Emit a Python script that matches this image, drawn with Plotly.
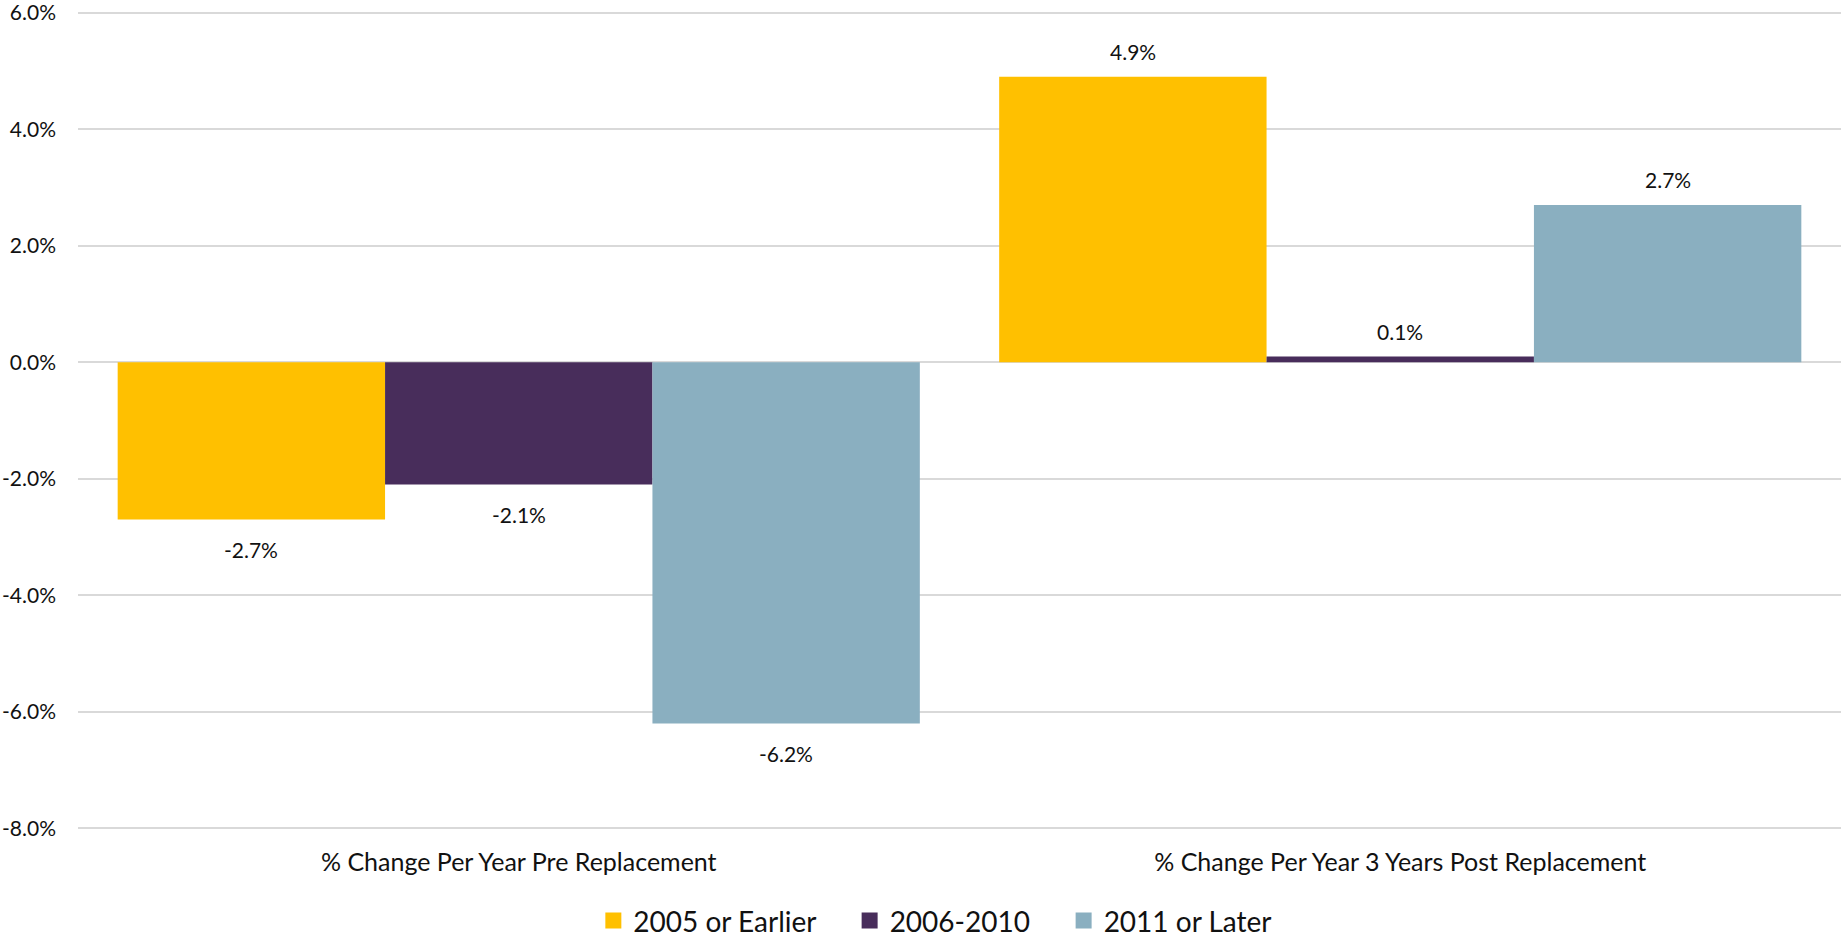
import plotly.graph_objects as go

categories = ["% Change Per Year Pre Replacement", "% Change Per Year 3 Years Post Replacement"]
series_names = ["2005 or Earlier", "2006-2010", "2011 or Later"]
values_2005 = [-2.7, 4.9]
values_2006 = [-2.1, 0.1]
values_2011 = [-6.2, 2.7]
series_values = [values_2005, values_2006, values_2011]
colors = ["#FFC000", "#482D5B", "#8AAFC0"]
y_ticks = [-8, -6, -4, -2, 0, 2, 4, 6]
y_tick_text = [f"{v:.1f}%" for v in y_ticks]

FONT = "Lato"
TEXT_COLOR = "#111111"
BARGAP = 0.09
NBSP = "\u00a0"

fig = go.Figure()
n = len(series_names)
for k, (name, vals, col) in enumerate(zip(series_names, series_values, colors)):
    fig.add_trace(go.Bar(
        x=categories, y=vals, name=name, marker=dict(color=col, line=dict(width=0)),
        showlegend=False, hoverinfo="skip",
    ))
    legend_name = name + (NBSP * 4 if k < n - 1 else "")
    fig.add_trace(go.Scatter(
        x=[None], y=[None], mode="markers", name=legend_name,
        marker=dict(symbol="square", size=18, color=col),
    ))

# data labels through annotations on the numeric category positions
bar_w = (1 - BARGAP) / n
annotations = []
for s, vals in enumerate(series_values):
    off = (s - (n - 1) / 2) * bar_w
    for i, v in enumerate(vals):
        annotations.append(dict(
            x=i + off, y=v, xref="x", yref="y", text=f"{v:.1f}%",
            showarrow=False, yanchor="middle",
            yshift=25 if v >= 0 else -30,
            font=dict(family=FONT, size=21, color=TEXT_COLOR),
        ))

fig.update_layout(
    width=1841, height=937,
    margin=dict(l=78, r=0, t=11, b=107, autoexpand=False),
    paper_bgcolor="white", plot_bgcolor="white",
    barmode="group", bargap=BARGAP, bargroupgap=0,
    font=dict(family=FONT, color=TEXT_COLOR),
    annotations=annotations,
    legend=dict(
        orientation="h", xanchor="center", x=0.4863, yanchor="middle", y=-0.111,
        font=dict(family=FONT, size=28, color=TEXT_COLOR),
        bgcolor="rgba(0,0,0,0)",
    ),
)
fig.update_xaxes(
    type="category", categoryorder="array", categoryarray=categories,
    range=[-0.5, 1.5], showgrid=False, showline=False, zeroline=False,
    ticks="", tickfont=dict(family=FONT, size=25, color=TEXT_COLOR),
    ticklabelstandoff=15, automargin=False,
)
fig.update_yaxes(
    range=[-8.03, 6.03], tickvals=y_ticks, ticktext=y_tick_text,
    showgrid=True, gridcolor="#D9D9D9", gridwidth=1.5,
    zeroline=True, zerolinecolor="#D9D9D9", zerolinewidth=1.5,
    showline=False, ticks="",
    tickfont=dict(family=FONT, size=21, color=TEXT_COLOR),
    ticklabelstandoff=21, automargin=False, ticklabeloverflow="allow",
)

fig.write_html(
    "out.html",
    config={"displayModeBar": False},
    post_script="document.body.style.margin='0px';",
)
